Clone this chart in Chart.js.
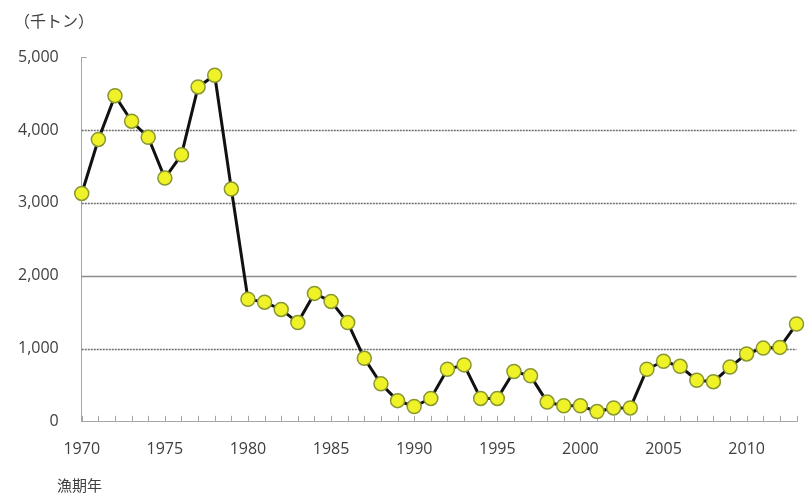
<!DOCTYPE html>
<html>
<head>
<meta charset="utf-8">
<script src="https://cdn.jsdelivr.net/npm/chart.js@4/dist/chart.umd.min.js"></script>
<style>
    body { margin: 0; background: #fff; }
    #wrap { position: relative; width: 805px; height: 498px; }
    .lbl { position: absolute; font-family: "Noto Sans CJK JP", sans-serif; color: #404040; font-size: 15px; }
</style>
</head>
<body>
<div id="wrap">
    <canvas id="myChart" width="805" height="498"></canvas>
    <div class="lbl" style="left:14px; top:8px; font-size:16px;">（千トン）</div>
    <div class="lbl" style="left:57px; top:474px;">漁期年</div>
</div>
<script>
const years = [1970, 1971, 1972, 1973, 1974, 1975, 1976, 1977, 1978, 1979,
    1980, 1981, 1982, 1983, 1984, 1985, 1986, 1987, 1988, 1989,
    1990, 1991, 1992, 1993, 1994, 1995, 1996, 1997, 1998, 1999,
    2000, 2001, 2002, 2003, 2004, 2005, 2006, 2007, 2008, 2009,
    2010, 2011, 2012, 2013];
const catch_kt = [3130, 3870, 4470, 4120, 3900, 3340, 3660, 4590, 4750, 3190,
    1680, 1640, 1540, 1360, 1760, 1650, 1360, 870, 520, 290,
    210, 320, 720, 780, 320, 320, 690, 630, 270, 220,
    220, 140, 190, 190, 720, 830, 760, 570, 550, 750,
    930, 1010, 1020, 1340];
const yTicks = [0, 1000, 2000, 3000, 4000, 5000];

// grid lines + inward year ticks, placed through the chart's scales
const gridPlugin = {
    id: 'gridPlugin',
    beforeDatasetsDraw(chart) {
        const { ctx, chartArea, scales } = chart;
        ctx.save();
        yTicks.forEach(v => {
            if (v === 0 || v === 5000) return;
            const y = Math.round(scales.y.getPixelForValue(v)) + 0.5;
            ctx.beginPath();
            if (v === 2000) {
                ctx.setLineDash([]);
                ctx.strokeStyle = '#8c8c8c';
            } else {
                ctx.setLineDash([2, 1]);
                ctx.strokeStyle = '#6e6e6e';
            }
            ctx.lineWidth = 1.5;
            ctx.moveTo(chartArea.left, y);
            ctx.lineTo(chartArea.right, y);
            ctx.stroke();
        });
        ctx.setLineDash([]);
        ctx.strokeStyle = '#a6a6a6';
        ctx.lineWidth = 1;
        // small tick at 5,000
        const yTop = Math.round(scales.y.getPixelForValue(5000)) + 0.5;
        ctx.beginPath();
        ctx.moveTo(chartArea.left, yTop);
        ctx.lineTo(chartArea.left + 5, yTop);
        ctx.stroke();
        // year ticks on the x axis, pointing up
        const yb = chartArea.bottom;
        years.forEach(yr => {
            const x = Math.round(scales.x.getPixelForValue(yr)) + 0.5;
            ctx.beginPath();
            ctx.moveTo(x, yb);
            ctx.lineTo(x, yb - 6);
            ctx.stroke();
        });
        ctx.restore();
    }
};

const ctx = document.getElementById('myChart').getContext('2d');
new Chart(ctx, {
    type: 'line',
    data: {
        labels: years,
        datasets: [{
            data: years.map((yr, i) => ({ x: yr, y: catch_kt[i] })),
            borderColor: '#111111',
            borderWidth: 3,
            pointRadius: 7,
            pointBackgroundColor: '#eef227',
            pointBorderColor: '#8a9632',
            pointBorderWidth: 1.5,
            tension: 0,
            clip: false
        }]
    },
    options: {
        responsive: false,
        animation: false,
        layout: { padding: { left: 3, right: 1, top: 57, bottom: 29 } },
        plugins: { legend: { display: false }, tooltip: { enabled: false } },
        scales: {
            x: {
                type: 'linear',
                min: 1970,
                max: 2013,
                grid: { display: false },
                border: { display: true, color: '#a6a6a6', width: 1 },
                afterFit: s => { s.paddingRight = 0; },
                ticks: {
                    stepSize: 1,
                    autoSkip: false,
                    maxRotation: 0,
                    padding: 10,
                    color: '#404040',
                    font: { family: '"Open Sans", sans-serif', size: 16 },
                    callback: v => (v % 5 === 0 ? String(v) : '')
                }
            },
            y: {
                min: 0,
                max: 5000,
                afterBuildTicks: scale => { scale.ticks = yTicks.map(v => ({ value: v })); },
                grid: { display: false },
                border: { display: true, color: '#a6a6a6', width: 1 },
                ticks: {
                    padding: 15,
                    color: '#404040',
                    font: { family: '"Open Sans", sans-serif', size: 16 },
                    callback: v => v.toLocaleString('en-US')
                }
            }
        }
    },
    plugins: [gridPlugin]
});
</script>
</body>
</html>
